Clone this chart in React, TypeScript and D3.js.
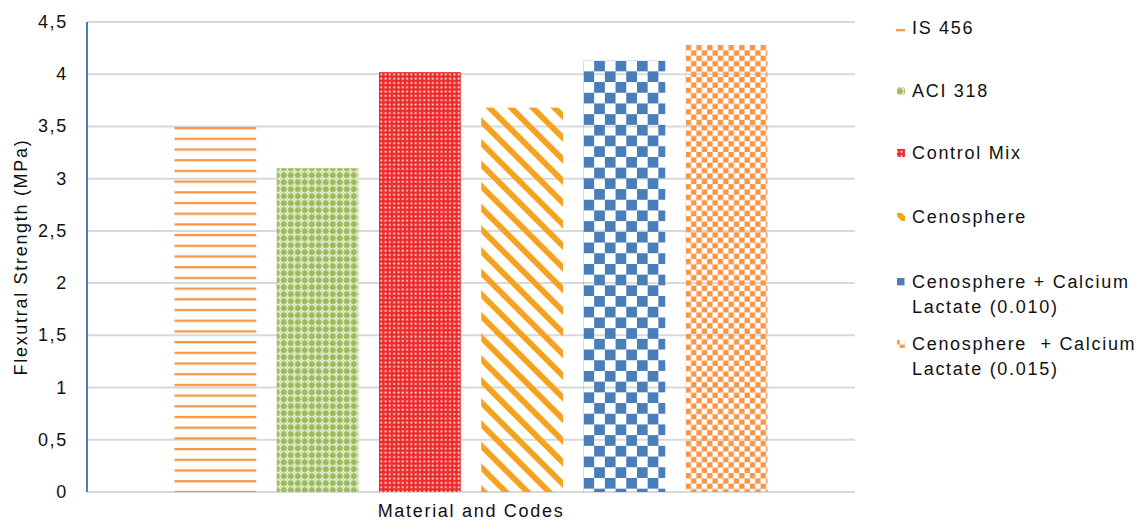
import React from "react";
import * as d3 from "d3";

const categories = ["Material and Codes"];
const series = [
  "IS 456",
  "ACI 318",
  "Control Mix",
  "Cenosphere",
  "Cenosphere + Calcium Lactate (0.010)",
  "Cenosphere  + Calcium Lactate (0.015)",
];
const values = [3.5, 3.1, 4.02, 3.68, 4.13, 4.28];
const legendLines = [
  ["IS 456"],
  ["ACI 318"],
  ["Control Mix"],
  ["Cenosphere"],
  ["Cenosphere + Calcium", "Lactate (0.010)"],
  ["Cenosphere  + Calcium", "Lactate (0.015)"],
];
const yTicks = [0, 0.5, 1, 1.5, 2, 2.5, 3, 3.5, 4, 4.5];
const yTitle = "Flexutral Strength (MPa)";
const xTitle = "Material and Codes";

const W = 1136;
const H = 520;
const FONT = "'Liberation Sans', Arial, sans-serif";
const LS = 1.7;

export default function App() {
  const left = 87;
  const right = 855;
  const top = 22;
  const bottom = 492;

  const y = d3.scaleLinear().domain([0, 4.5]).range([bottom, top]);
  const x0 = d3.scaleBand<string>().domain(categories).range([left, right]).paddingInner(0).paddingOuter(0.126);
  const x1 = d3
    .scaleBand<string>()
    .domain(series)
    .range([0, x0.bandwidth()])
    .paddingInner(0.2)
    .paddingOuter(0.1);
  const bw = x1.bandwidth();
  const fmt = (v: number) => String(v).replace(".", ",");

  const bx = (i: number) => (x0(categories[0]) as number) + (x1(series[i]) as number);

  const legendY = [28, 91, 153, 217, 282, 344];

  return (
    <svg
      width={W}
      height={H}
      style={{ position: "fixed", left: 0, top: 0, background: "#fff" }}
      fontFamily={FONT}
    >
      <defs>
        <pattern id="p0" patternUnits="userSpaceOnUse" x={bx(0)} y={bottom - 1.2} width={10} height={10.7}>
          <rect x={0} y={0} width={10} height={2.3} fill="#F79646" />
        </pattern>
        <pattern id="p1" patternUnits="userSpaceOnUse" x={bx(1)} y={y(values[1])} width={7} height={7}>
          <rect width={7} height={7} fill="#9BBB59" />
          <rect x={2.75} y={0.5} width={1.5} height={6} fill="#fff" />
          <rect x={0.5} y={2.75} width={6} height={1.5} fill="#fff" />
          <rect x={3} y={3} width={1} height={1} fill="#9BBB59" />
        </pattern>
        <pattern id="p2" patternUnits="userSpaceOnUse" x={bx(2)} y={y(values[2])} width={4.3} height={4.3}>
          <rect width={4.3} height={4.3} fill="#EE2A2A" />
          <rect x={1.4} y={1.4} width={1.7} height={1.7} fill="#fff" />
        </pattern>
        <pattern
          id="p3"
          patternUnits="userSpaceOnUse"
          x={bx(3)}
          y={y(values[3])}
          width={15.3}
          height={15.3}
          patternTransform="rotate(-45)"
        >
          <rect x={0} y={0} width={5.8} height={15.3} fill="#F7A21E" />
        </pattern>
        <pattern id="p4" patternUnits="userSpaceOnUse" x={bx(4)} y={y(values[4])} width={21.4} height={21.4}>
          <rect x={10.7} y={0} width={10.7} height={10.7} fill="#4A7EBB" />
          <rect x={0} y={10.7} width={10.7} height={10.7} fill="#4A7EBB" />
        </pattern>
        <pattern id="p5" patternUnits="userSpaceOnUse" x={bx(5)} y={y(values[5])} width={10.7} height={10.7}>
          <rect x={0} y={0} width={5.35} height={5.35} fill="#F79646" />
          <rect x={5.35} y={5.35} width={5.35} height={5.35} fill="#F79646" />
        </pattern>
        <pattern id="l0" patternUnits="userSpaceOnUse" x={896} y={28} width={10} height={10}>
          <rect x={0} y={0} width={10} height={2.3} fill="#F79646" />
        </pattern>
      </defs>

      {/* gridlines */}
      {yTicks.map((t) => (
        <line key={t} x1={left} x2={right} y1={y(t)} y2={y(t)} stroke="#D9D9D9" strokeWidth={2} />
      ))}

      {/* bars */}
      {series.map((s, i) => (
        <rect
          key={s}
          x={bx(i)}
          y={y(values[i])}
          width={bw}
          height={y(0) - y(values[i])}
          fill={`url(#p${i})`}
        />
      ))}

      {/* y axis line */}
      <line x1={left} x2={left} y1={top} y2={bottom} stroke="#4A7EBB" strokeWidth={2} />

      {/* y tick labels */}
      {yTicks.map((t) => (
        <text
          key={t}
          x={68}
          y={y(t)}
          textAnchor="end"
          dominantBaseline="central"
          fontSize={18}
          letterSpacing={LS}
          fill="#111"
        >
          {fmt(t)}
        </text>
      ))}

      {/* y title */}
      <text
        transform={`translate(27, ${(top + bottom) / 2}) rotate(-90)`}
        textAnchor="middle"
        fontSize={18}
        letterSpacing={LS}
        fill="#111"
      >
        {yTitle}
      </text>

      {/* x title */}
      <text x={(left + right) / 2} y={517} textAnchor="middle" fontSize={18} letterSpacing={LS} fill="#111">
        {xTitle}
      </text>

      {/* legend */}
      {series.map((s, i) => (
        <g key={s}>
          {i === 0 ? (
            <rect x={896} y={legendY[i] + 1} width={9} height={2.3} fill="#F79646" />
          ) : (
            <rect x={897} y={legendY[i] - 4} width={8} height={8} fill={`url(#p${i})`} />
          )}
          {legendLines[i].map((ln, j) => (
            <text
              key={j}
              x={912}
              y={legendY[i] + j * 25}
              dominantBaseline="central"
              fontSize={18}
              letterSpacing={LS}
              fill="#111"
              style={{ whiteSpace: "pre" }}
            >
              {ln}
            </text>
          ))}
        </g>
      ))}
    </svg>
  );
}
